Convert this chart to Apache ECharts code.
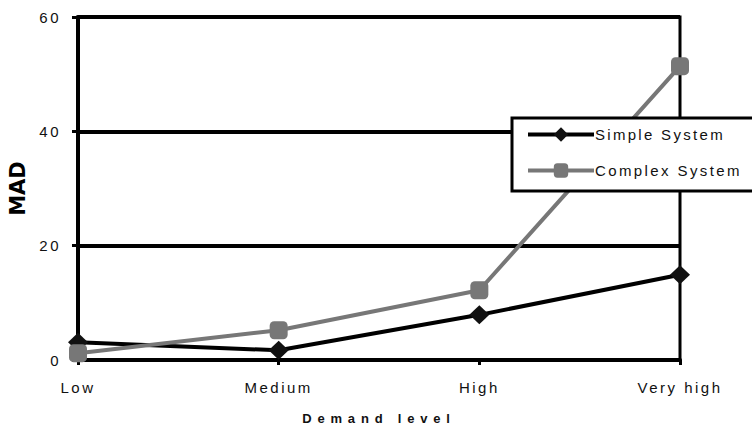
<!DOCTYPE html>
<html>
<head>
<meta charset="utf-8">
<script src="https://cdn.jsdelivr.net/npm/echarts@6/dist/echarts.min.js"></script>
<style>
  html, body { margin: 0; padding: 0; background: #ffffff; }
  #chart { width: 752px; height: 427px; }
</style>
</head>
<body>
<div id="chart"></div>
<script>
// Demand levels on the x axis and MAD values for each system
const demandLevels = ['Low', 'Medium', 'High', 'Very high'];
const simpleSystem = [3.1, 1.7, 7.9, 14.9];
const complexSystem = [1.2, 5.2, 12.2, 51.4];
const seriesNames = ['Simple System', 'Complex System'];
const yMin = 0, yMax = 60, yStep = 20;

const FONT = '"Liberation Sans Narrow", "Liberation Sans", Arial, sans-serif';

const chart = echarts.init(document.getElementById('chart'), null, { renderer: 'svg' });

chart.setOption({
  animation: false,
  backgroundColor: '#ffffff',
  grid: {
    left: 78, right: 72, top: 17, bottom: 67,
    outerBoundsMode: 'none',
    containLabel: false,
    show: true, borderColor: '#000000', borderWidth: 3, backgroundColor: 'transparent'
  },
  legend: {
    orient: 'vertical',
    left: 512, top: 118,
    padding: [9, 70, 13, 14],
    itemGap: 21,
    itemWidth: 66,
    itemHeight: 18,
    backgroundColor: '#ffffff',
    borderColor: '#000000',
    borderWidth: 3,
    borderRadius: 0,
    lineStyle: { width: 4 },
    textStyle: { fontFamily: FONT, fontSize: 15, color: '#111111', padding: [0, 0, 0, -4] },
    data: seriesNames
  },
  xAxis: {
    type: 'category',
    data: demandLevels,
    boundaryGap: false,
    name: 'Demand level',
    nameLocation: 'middle',
    nameGap: 52,
    nameTextStyle: { fontFamily: FONT, fontSize: 13, fontWeight: 'bold', color: '#111111' },
    axisLine: { lineStyle: { color: '#000000', width: 4 } },
    axisTick: { show: true, length: 5, lineStyle: { color: '#000000', width: 3 } },
    axisLabel: { fontFamily: FONT, fontSize: 15, color: '#111111', margin: 20 },
    splitLine: { show: false }
  },
  yAxis: {
    type: 'value',
    min: yMin, max: yMax, interval: yStep,
    name: 'MAD',
    nameLocation: 'middle',
    nameGap: 50,
    nameRotate: 90,
    nameTextStyle: { fontFamily: '"DejaVu Sans", sans-serif', fontSize: 21, fontWeight: 900, color: '#000000' },
    axisLine: { show: true, lineStyle: { color: '#000000', width: 4 } },
    axisTick: { show: true, inside: false, length: 6, lineStyle: { color: '#000000', width: 3 } },
    axisLabel: { fontFamily: FONT, fontSize: 15, color: '#111111', margin: 17 },
    splitLine: { show: true, lineStyle: { color: '#000000', width: 4 } }
  },
  series: [
    {
      name: seriesNames[0],
      type: 'line',
      data: simpleSystem,
      symbol: 'diamond',
      symbolSize: [20, 19],
      lineStyle: { color: '#000000', width: 4 },
      itemStyle: { color: '#111111', borderWidth: 0 }
    },
    {
      name: seriesNames[1],
      type: 'line',
      data: complexSystem,
      symbol: 'roundRect',
      symbolSize: 18,
      lineStyle: { color: '#777777', width: 4 },
      itemStyle: { color: '#777777', borderWidth: 0 }
    }
  ]
});

// Widen the character spacing of the rendered labels
const spacingByText = {
  'MAD': 0,
  'Demand level': 5.8,
  'Simple System': 2.3,
  'Complex System': 2.4
};
function spaceLabels() {
  document.querySelectorAll('#chart text').forEach(function (t) {
    const s = t.textContent;
    const v = (s in spacingByText) ? spacingByText[s] : 2.5;
    t.style.letterSpacing = v + 'px';
  });
}
chart.on('finished', spaceLabels);
spaceLabels();
</script>
</body>
</html>
